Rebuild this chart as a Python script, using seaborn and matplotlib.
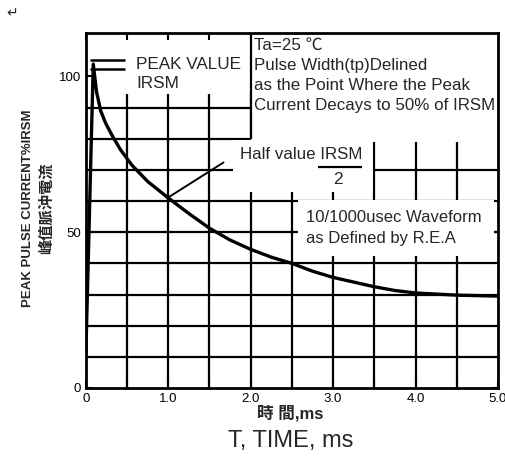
# pulse waveform chart (10/1000us) redrawn with seaborn
import pandas as pd
import seaborn as sns
import matplotlib.pyplot as plt
from matplotlib.patches import Rectangle

# curve: time (ms) vs peak pulse current (% IRSM)
time_ms = [0, 0.09, 0.13, 0.18, 0.24, 0.32, 0.42, 0.56, 0.75, 1.0, 1.25, 1.5,
           1.75, 2.0, 2.25, 2.5, 2.75, 3.0, 3.25, 3.5, 3.75, 4.0, 4.5, 5.0]
current_pct = [11, 104, 95, 89, 85, 81, 76.5, 71.5, 66.3, 61, 56, 51.3,
               47.5, 44.5, 42, 40, 37.5, 35.5, 34, 32.5, 31.3, 30.5, 29.8, 29.5]

x_ticks = [0, 1, 2, 3, 4, 5]
x_labels = ["0", "1.0", "2.0", "3.0", "4.0", "5.0"]
y_ticks = [0, 50, 100]
y_labels = ["0", "50", "100"]
x_grid = [0.5, 1.0, 1.5, 2.0, 2.5, 3.0, 3.5, 4.0, 4.5]
y_grid = [10, 20, 30, 40, 50, 60, 70, 80, 90]

df = pd.DataFrame({"t": time_ms, "i": current_pct})

sns.set_theme(style="ticks")
plt.rcParams["font.family"] = ["Liberation Sans", "Noto Sans CJK TC", "DejaVu Sans"]

fig = plt.figure(figsize=(5.05, 4.63), dpi=100)
ax = fig.add_axes([0.170, 0.162, 0.816, 0.767])

# grid lines (vertical ones stop below the top text)
ax.vlines(x_grid, 0, 94.5, color="black", lw=1.6, zorder=1)
ax.hlines(y_grid, 0, 5, color="black", lw=1.6, zorder=1)

# white areas behind the notes
for (x0, y0, w, h) in [(2.0, 79.0, 3.0, 36), (1.79, 63, 1.70, 16.5), (2.57, 42.5, 2.38, 17.8)]:
    ax.add_patch(Rectangle((x0, y0), w, h, facecolor="white", edgecolor="none", zorder=2))
ax.vlines(2.0, 80, 114, color="black", lw=1.6, zorder=3)

sns.lineplot(data=df, x="t", y="i", ax=ax, color="black", lw=2.4, zorder=4)

ax.set_xlim(0, 5)
ax.set_ylim(0, 114)
ax.set_xticks(x_ticks)
ax.set_xticklabels(x_labels, fontsize=9.5)
ax.set_xticks(x_grid, minor=True)
ax.set_yticks(y_ticks)
ax.set_yticklabels(y_labels, fontsize=9.5)
ax.tick_params(axis="both", which="both", direction="in", length=5, width=1.5,
               top=True, right=True, colors="black")
for s in ax.spines.values():
    s.set_linewidth(2)
    s.set_color("black")

# peak value marker and text
ax.hlines([105.3, 102.4], 0.055, 0.48, color="black", lw=1.8, zorder=5)
ax.text(0.61, 100.8, "PEAK VALUE\nIRSM", fontsize=12.3, va="center", ha="left",
        linespacing=1.3, zorder=5)

ax.text(2.04, 112.3, "Ta=25 ℃\nPulse Width(tp)Delined\nas the Point Where the Peak\nCurrent Decays to 50% of IRSM",
        fontsize=12.2, va="top", ha="left", linespacing=1.42, zorder=5)

# half value note
ax.plot([0.99, 1.67], [61, 72.4], color="black", lw=1.4, zorder=5)
ax.text(1.87, 74.8, "Half value IRSM", fontsize=12.2, va="center", ha="left", zorder=5)
ax.hlines(71.0, 2.82, 3.35, color="black", lw=1.6, zorder=5)
ax.text(3.06, 66.8, "2", fontsize=12.5, va="center", ha="center", zorder=5)

ax.text(2.67, 51.5, "10/1000usec Waveform\nas Defined by R.E.A", fontsize=12,
        va="center", ha="left", linespacing=1.5, zorder=5)

# axis labels
ax.set_xlabel("")
ax.set_ylabel("")
fig.text(0.575, 0.108, "時 間,ms", fontsize=12, ha="center", va="center", weight="bold")
fig.text(0.575, 0.048, "T, TIME, ms", fontsize=17, ha="center", va="center")
fig.text(0.056, 0.55, "PEAK PULSE CURRENT%IRSM", fontsize=9.5, rotation=90,
         ha="center", va="center", weight="bold")
fig.text(0.092, 0.55, "峰值脈沖電流", fontsize=11, rotation=90, ha="center",
         va="center", weight="bold")
fig.text(0.012, 0.972, "↵", fontsize=10, ha="left", va="center",
         family=["DejaVu Sans"])

fig.savefig("out.png", dpi=100)
